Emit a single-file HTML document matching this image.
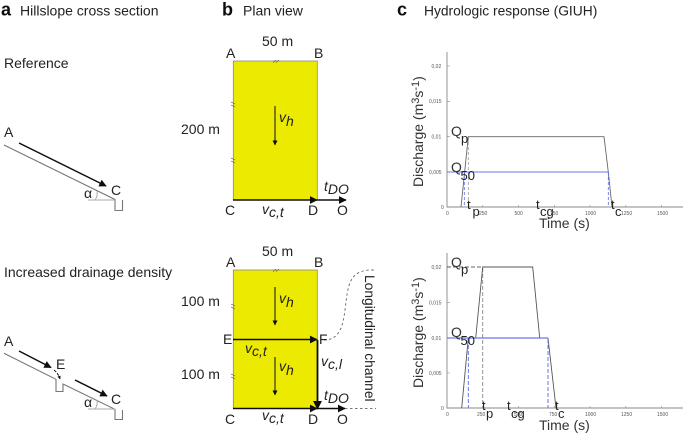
<!DOCTYPE html>
<html><head><meta charset="utf-8"><style>
html,body{margin:0;padding:0;background:#fff;width:685px;height:434px;overflow:hidden}
svg{display:block;font-family:"Liberation Sans",sans-serif;fill:#222}
.b{font-weight:bold;font-size:18px;fill:#111}
.t{font-size:14px}
.i{font-size:14px;font-style:italic}
.k{font-size:5px;fill:#555}
.ax{font-size:14px;fill:#333}
.q{font-size:14px;fill:#333}
.sub{font-size:13px;fill:#222}
</style></head><body>
<svg width="685" height="434" viewBox="0 0 685 434" xmlns="http://www.w3.org/2000/svg">
<defs>
<marker id="m" viewBox="0 0 10 10" refX="9" refY="5" markerWidth="5" markerHeight="5" orient="auto"><path d="M0 0L10 5L0 10z" fill="#111"/></marker>
<marker id="l" viewBox="0 0 10 10" refX="9" refY="5" markerWidth="3.400" markerHeight="3.400" orient="auto"><path d="M0 0L10 5L0 10z" fill="#111"/></marker>
<filter id="f" x="-5%" y="-5%" width="110%" height="110%"><feGaussianBlur stdDeviation="0.300"/></filter>
</defs>
<g filter="url(#f)">
<!-- Panel a -->
<text x="1" y="15.500" class="b">a</text>
<text x="20" y="15.500" class="t">Hillslope cross section</text>
<text x="4" y="68" class="t">Reference</text>
<text x="4" y="137" class="t">A</text>
<text x="111" y="195" class="t">C</text>
<text x="84" y="198" class="t">α</text>
<path d="M4 145L115 199.500V210.500H122.500V200" fill="none" stroke="#777" stroke-width="1.100"/>
<path d="M88 200H115M95 200Q98 196 97 191" fill="none" stroke="#aaa" stroke-width="1"/>
<line x1="19" y1="143" x2="106" y2="186" stroke="#111" stroke-width="1.500" marker-end="url(#m)"/>

<text x="4" y="277" class="t">Increased drainage density</text>
<text x="4" y="346" class="t">A</text>
<text x="56" y="369" class="t">E</text>
<text x="111" y="404" class="t">C</text>
<text x="84" y="407" class="t">α</text>
<path d="M4 353.300L56 379.300V391.500H63V384L115 409.300V419.500H122.500V410" fill="none" stroke="#777" stroke-width="1.100"/>
<path d="M88 409H115M95 409Q98 405 97 400" fill="none" stroke="#aaa" stroke-width="1"/>
<line x1="19" y1="351" x2="51" y2="367.500" stroke="#111" stroke-width="1.500" marker-end="url(#m)"/>
<path d="M54 370Q58 373 60 379" fill="none" stroke="#111" stroke-width="1" stroke-dasharray="3 1.500" marker-end="url(#l)"/>
<line x1="75" y1="380" x2="107" y2="396" stroke="#111" stroke-width="1.500" marker-end="url(#m)"/>

<!-- Panel b -->
<text x="222" y="15.500" class="b">b</text>
<text x="243" y="15.500" class="t">Plan view</text>
<text x="262" y="46" class="t">50 m</text>
<text x="226" y="58" class="t">A</text>
<text x="314" y="58" class="t">B</text>
<text x="181" y="134" class="t">200 m</text>
<rect x="233.300" y="61" width="84" height="139" fill="#ecea00" stroke="#888" stroke-width="0.800"/>
<path d="M273 62.500L276 60M276 62.500L279 60M231 102L235 104M231 105L235 107M231 158L235 160M231 161L235 163" stroke="#555" stroke-width="0.600"/>
<line x1="275" y1="106" x2="275" y2="145" stroke="#111" stroke-width="1" marker-end="url(#m)"/>
<text x="279" y="122" class="i">v<tspan dy="4">h</tspan></text>
<line x1="233" y1="200" x2="317" y2="200" stroke="#111" stroke-width="1.600" marker-end="url(#m)"/>
<line x1="317" y1="200" x2="346" y2="200" stroke="#111" stroke-width="1.600" marker-end="url(#m)"/>
<text x="225" y="215" class="t">C</text>
<text x="262" y="214" class="i">v<tspan dy="3">c,t</tspan></text>
<text x="308" y="215" class="t">D</text>
<text x="337" y="215" class="t">O</text>
<text x="324" y="191" class="i">t<tspan dy="3">DO</tspan></text>

<text x="262" y="256" class="t">50 m</text>
<text x="226" y="267" class="t">A</text>
<text x="314" y="267" class="t">B</text>
<text x="181" y="306" class="t">100 m</text>
<text x="181" y="379" class="t">100 m</text>
<rect x="233.300" y="270" width="84" height="138.500" fill="#ecea00" stroke="#888" stroke-width="0.800"/>
<path d="M273 271.500L276 269M276 271.500L279 269M231 304L235 306M231 307L235 309M231 374L235 376M231 377L235 379" stroke="#555" stroke-width="0.600"/>
<line x1="275" y1="287" x2="275" y2="325" stroke="#111" stroke-width="1" marker-end="url(#m)"/>
<line x1="275" y1="357" x2="275" y2="395" stroke="#111" stroke-width="1" marker-end="url(#m)"/>
<text x="279" y="303" class="i">v<tspan dy="4">h</tspan></text>
<text x="279" y="371" class="i">v<tspan dy="4">h</tspan></text>
<line x1="233" y1="339.500" x2="317" y2="339.500" stroke="#111" stroke-width="1.600" marker-end="url(#m)"/>
<line x1="233" y1="408.500" x2="317" y2="408.500" stroke="#111" stroke-width="1.600" marker-end="url(#m)"/>
<line x1="317.500" y1="340" x2="317.500" y2="409" stroke="#111" stroke-width="1.800" marker-end="url(#m)"/>
<line x1="317" y1="408.500" x2="345" y2="408.500" stroke="#111" stroke-width="1.600" marker-end="url(#m)"/>
<path d="M345 408.500H376" stroke="#777" stroke-width="0.900" stroke-dasharray="2.500 2.500" fill="none"/>
<path d="M324 340C340 340 343 325 345 310C348 285 349 270 372 270H376" stroke="#666" stroke-width="0.900" stroke-dasharray="2.500 2.500" fill="none"/>
<text x="223" y="344" class="t">E</text>
<text x="319" y="344" class="t">F</text>
<text x="245" y="353" class="i">v<tspan dy="3">c,t</tspan></text>
<text x="321" y="366" class="i">v<tspan dy="3">c,l</tspan></text>
<text x="225" y="424" class="t">C</text>
<text x="262" y="420" class="i">v<tspan dy="3">c,t</tspan></text>
<text x="308" y="424" class="t">D</text>
<text x="337" y="424" class="t">O</text>
<text x="324" y="400" class="i">t<tspan dy="3">DO</tspan></text>
<text transform="translate(365,275) rotate(90)" class="t" style="font-size:13.800px">Longitudinal channel</text>

<!-- Panel c -->
<text x="397" y="15.500" class="b">c</text>
<text x="424" y="15.500" class="t" style="font-size:13.800px">Hydrologic response (GIUH)</text>

<!-- Top chart -->
<path d="M447 52V207H683" fill="none" stroke="#888" stroke-width="0.900"/>
<path d="M447 66h3M447 101.300h3M447 136.700h3M447 172h3M482.800 207v-2M518.500 207v-2M554.300 207v-2M590 207v-2M625.800 207v-2M661.500 207v-2" stroke="#888" stroke-width="0.600"/>
<g class="k">
<text x="431.500" y="68" class="k">0,02</text><text x="429" y="103" class="k">0,015</text><text x="431.500" y="138.500" class="k">0,01</text><text x="429" y="174" class="k">0,005</text><text x="441" y="209" class="k">0</text>
<text x="446" y="215" class="k">0</text><text x="479" y="215" class="k">250</text><text x="514.500" y="215" class="k">500</text><text x="550" y="215" class="k">750</text><text x="585" y="215" class="k">1000</text><text x="621" y="215" class="k">1250</text><text x="657" y="215" class="k">1500</text>
</g>
<path d="M468.300 137V207" stroke="#999" stroke-width="0.800" stroke-dasharray="3 2" fill="none"/>
<path d="M461 207L468.300 136.700H604L608.300 172L612 207" fill="none" stroke="#666" stroke-width="0.900"/>
<path d="M447 172H608.300" stroke="#6a78e8" stroke-width="1"/>
<path d="M464.300 172V207M608.300 172V207" stroke="#5566ee" stroke-width="0.800" stroke-dasharray="3 2"/>
<text transform="translate(423,187) rotate(-90)" class="ax">Discharge (m<tspan dy="-4" style="font-size:11px">3</tspan><tspan dy="4">s</tspan><tspan dy="-4" style="font-size:11px">-1</tspan><tspan dy="4">)</tspan></text>
<text x="539" y="228" class="ax">Time (s)</text>
<text x="451" y="136" class="q">Q</text><text x="461" y="143" class="sub">p</text>
<text x="451" y="172" class="q">Q</text><text x="460.500" y="180" class="sub">50</text>
<text x="467" y="209" class="sub">t</text><text x="472.500" y="216" class="sub">p</text>
<text x="536" y="209" class="sub">t</text><text x="540" y="216" class="sub">cg</text>
<text x="611" y="209" class="sub">t</text><text x="615" y="216" class="sub">c</text>

<!-- Bottom chart -->
<path d="M447 253V408H683" fill="none" stroke="#888" stroke-width="0.900"/>
<path d="M447 267h3M447 302.700h3M447 338h3M447 373h3M482.800 408v-2M518.500 408v-2M554.300 408v-2M590 408v-2M625.800 408v-2M661.500 408v-2" stroke="#888" stroke-width="0.600"/>
<g class="k">
<text x="431.500" y="269" class="k">0,02</text><text x="429" y="304.500" class="k">0,015</text><text x="431.500" y="340" class="k">0,01</text><text x="429" y="375" class="k">0,005</text><text x="441" y="410" class="k">0</text>
<text x="446" y="416" class="k">0</text><text x="477" y="416" class="k">250</text><text x="514" y="416" class="k">500</text><text x="549" y="416" class="k">750</text><text x="585" y="416" class="k">1000</text><text x="621" y="416" class="k">1250</text><text x="657" y="416" class="k">1500</text>
</g>
<path d="M447 267H482" stroke="#333" stroke-width="0.800" stroke-dasharray="4 2"/>
<path d="M482.700 268V408" stroke="#888" stroke-width="0.900" stroke-dasharray="4 2"/>
<path d="M461.700 408L468.300 338M475.700 338L482.700 267H532.700L539.700 338M548 338L556 408" fill="none" stroke="#555" stroke-width="0.900"/>
<path d="M447 338H548" stroke="#6a78e8" stroke-width="1.200"/>
<path d="M468.300 339V408M548 339V408" stroke="#5566ee" stroke-width="0.900" stroke-dasharray="4 2"/>
<text transform="translate(423,388) rotate(-90)" class="ax">Discharge (m<tspan dy="-4" style="font-size:11px">3</tspan><tspan dy="4">s</tspan><tspan dy="-4" style="font-size:11px">-1</tspan><tspan dy="4">)</tspan></text>
<text x="539" y="430" class="ax">Time (s)</text>
<text x="451" y="267" class="q">Q</text><text x="461" y="274" class="sub">p</text>
<text x="451" y="337" class="q">Q</text><text x="460.500" y="345" class="sub">50</text>
<text x="482" y="410" class="sub">t</text><text x="486" y="418" class="sub">p</text>
<text x="507" y="410" class="sub">t</text><text x="511" y="418" class="sub">cg</text>
<text x="555" y="410" class="sub">t</text><text x="558" y="418" class="sub">c</text>
</g>
</svg>
</body></html>
